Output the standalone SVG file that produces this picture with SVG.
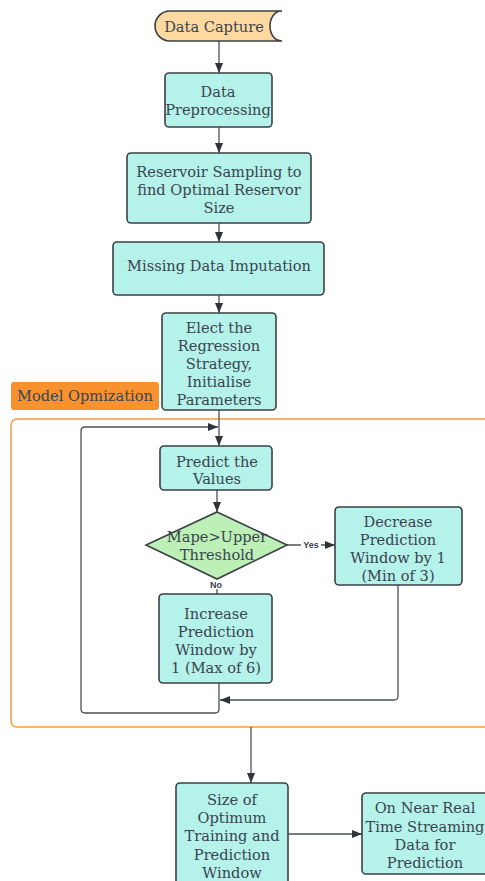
<svg xmlns="http://www.w3.org/2000/svg" width="485" height="881" viewBox="0 0 485 881">
<defs>
<marker id="ah" markerWidth="10" markerHeight="8" refX="10" refY="4" orient="auto" markerUnits="userSpaceOnUse">
<path d="M0,0 L10,4 L0,8 Z" fill="#2f343a"/>
</marker>
<style>
.box{fill:#b5f2ea;stroke:#3b4046;stroke-width:1.6}
.t{font-family:"DejaVu Serif","Liberation Serif",serif;font-size:14.6px;fill:#3a4450;text-anchor:middle}
.c{fill:none;stroke:#4a5058;stroke-width:1.3}
.lbl{font-family:"Liberation Sans",Arial,sans-serif;font-size:9px;font-weight:bold;fill:#3a4450;text-anchor:middle}
</style>
</defs>
<rect width="485" height="881" fill="#ffffff"/>

<g id="container">
<rect x="11" y="419" width="500" height="308" rx="6" fill="none" stroke="#f79a3c" stroke-width="1.5"/>
</g>
<g id="model-label">
<rect x="11" y="382" width="148" height="28" rx="3" fill="#f7922e"/>
<text class="t" x="85" y="401" font-size="15.2">Model Opmization</text>
</g>

<g id="connectors">
<path class="c" d="M219 41 V73" marker-end="url(#ah)"/>
<path class="c" d="M219 127 V153" marker-end="url(#ah)"/>
<path class="c" d="M219 223 V242" marker-end="url(#ah)"/>
<path class="c" d="M219 295 V313" marker-end="url(#ah)"/>
<path class="c" d="M219 410 V446" marker-end="url(#ah)"/>
<path class="c" d="M219 683 V709 Q219 713 215 713 H85 Q81 713 81 709 V431 Q81 427 85 427 H218" marker-end="url(#ah)"/>
<path class="c" d="M217 490 V512" marker-end="url(#ah)"/>
<path class="c" d="M287 545 H335" marker-end="url(#ah)"/>
<path class="c" d="M217 589 V594"/>
<path class="c" d="M398 585 V696 Q398 700 394 700 H220" marker-end="url(#ah)"/>
<path class="c" d="M251 727 V783" marker-end="url(#ah)"/>
<path class="c" d="M288 834 H362" marker-end="url(#ah)"/>
<rect x="301" y="540" width="20" height="10" fill="#ffffff"/>
<text class="lbl" x="311" y="548">Yes</text>
<text class="lbl" x="216" y="588">No</text>
</g>

<g id="data-capture">
<path d="M170 11 H282 C266 11 266 41 282 41 H170 A15 15 0 0 1 170 11 Z" fill="#fdd9a0" stroke="#3b4046" stroke-width="1.6"/>
<text class="t" x="214" y="32">Data Capture</text>
</g>

<g id="data-preprocessing">
<rect class="box" x="165" y="73" width="107" height="54" rx="4"/>
<text class="t" x="218" y="97">Data</text>
<text class="t" x="218" y="115">Preprocessing</text>
</g>

<g id="reservoir-sampling">
<rect class="box" x="127" y="153" width="184" height="70" rx="4"/>
<text class="t" x="219" y="177">Reservoir Sampling to</text>
<text class="t" x="219" y="195">find Optimal Reservor</text>
<text class="t" x="219" y="213">Size</text>
</g>

<g id="missing-data">
<rect class="box" x="113" y="242" width="211" height="53" rx="4"/>
<text class="t" x="219" y="271">Missing Data Imputation</text>
</g>

<g id="elect-regression">
<rect class="box" x="162" y="313" width="114" height="97" rx="4"/>
<text class="t" x="219" y="333">Elect the</text>
<text class="t" x="219" y="351">Regression</text>
<text class="t" x="219" y="369">Strategy,</text>
<text class="t" x="219" y="387">Initialise</text>
<text class="t" x="219" y="405">Parameters</text>
</g>

<g id="predict-values">
<rect class="box" x="160" y="446" width="112" height="44" rx="4"/>
<text class="t" x="217" y="467">Predict the</text>
<text class="t" x="217" y="484">Values</text>
</g>

<g id="mape-decision">
<path d="M217 512 L287 545 L217 579 L146 545 Z" fill="#bdf0b6" stroke="#3b4046" stroke-width="1.6"/>
<text class="t" x="217" y="542">Mape&gt;Upper</text>
<text class="t" x="217" y="560">Threshold</text>
</g>

<g id="decrease-window">
<rect class="box" x="335" y="507" width="127" height="78" rx="4"/>
<text class="t" x="398" y="527">Decrease</text>
<text class="t" x="398" y="545">Prediction</text>
<text class="t" x="398" y="563">Window by 1</text>
<text class="t" x="398" y="581">(Min of 3)</text>
</g>

<g id="increase-window">
<rect class="box" x="159" y="594" width="113" height="89" rx="4"/>
<text class="t" x="216" y="619">Increase</text>
<text class="t" x="216" y="637">Prediction</text>
<text class="t" x="216" y="655">Window by</text>
<text class="t" x="216" y="673">1 (Max of 6)</text>
</g>

<g id="optimum-size">
<rect class="box" x="176" y="783" width="112" height="110" rx="4"/>
<text class="t" x="232" y="805">Size of</text>
<text class="t" x="232" y="823">Optimum</text>
<text class="t" x="232" y="841">Training and</text>
<text class="t" x="232" y="860">Prediction</text>
<text class="t" x="232" y="878">Window</text>
</g>

<g id="streaming-data">
<rect class="box" x="362" y="793" width="140" height="81" rx="4"/>
<text class="t" x="425" y="813">On Near Real</text>
<text class="t" x="425" y="832">Time Streaming</text>
<text class="t" x="425" y="850">Data  for</text>
<text class="t" x="425" y="868">Prediction</text>
</g>
</svg>
